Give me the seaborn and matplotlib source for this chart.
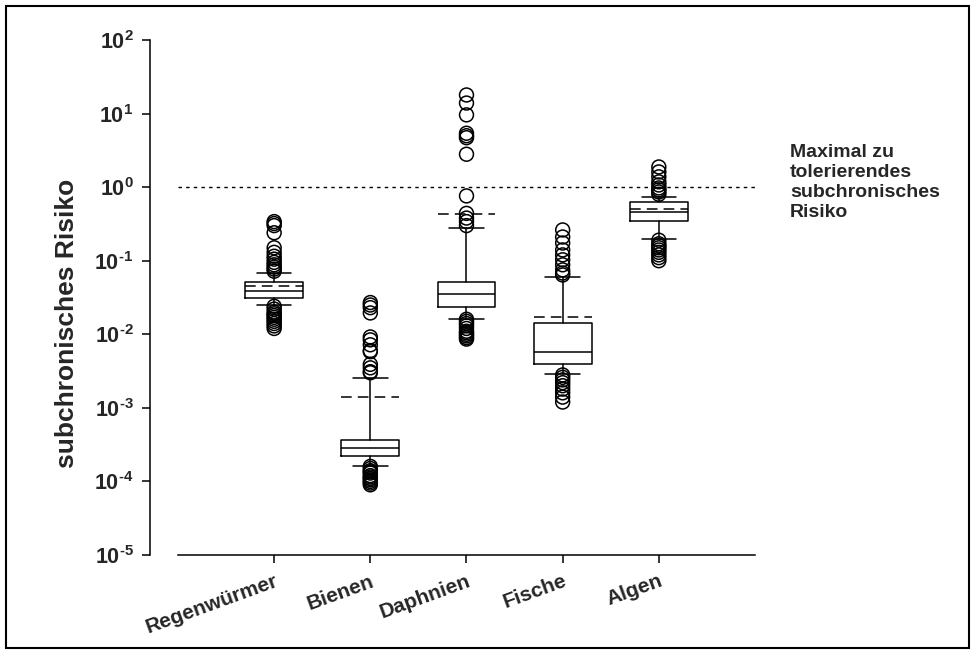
import numpy as np
import pandas as pd
import matplotlib
matplotlib.use("Agg")
import matplotlib.pyplot as plt
import seaborn as sns
from matplotlib.patches import Rectangle

# ---------------- data ----------------
categories = ["Regenwürmer", "Bienen", "Daphnien", "Fische", "Algen"]
medians = [0.039, 0.000286, 0.0354, 0.0058, 0.46]
q1 = [0.0313, 0.000223, 0.0236, 0.00396, 0.347]
q3 = [0.0515, 0.000367, 0.0515, 0.0143, 0.629]
whisker_low = [0.0251, 0.000163, 0.0162, 0.0029, 0.198]
whisker_high = [0.068, 0.00256, 0.279, 0.0602, 0.736]
means = [0.0455, 0.00141, 0.432, 0.0172, 0.506]

outliers_regenwuermer = [0.34, 0.32, 0.30, 0.24, 0.15, 0.13, 0.115, 0.105, 0.095,
                         0.088, 0.082, 0.077, 0.072,
                         0.024, 0.022, 0.020, 0.019, 0.018, 0.017, 0.016, 0.015,
                         0.014, 0.013, 0.012]
outliers_bienen = [0.027, 0.025, 0.023, 0.0195, 0.0092, 0.0084, 0.0072, 0.0060,
                   0.0058, 0.0039, 0.0035, 0.0031, 0.0030,
                   0.00016, 0.00015, 0.00014, 0.000135, 0.00013, 0.00012,
                   0.000115, 0.00011, 0.000105, 0.0001, 0.000095, 0.00009]
outliers_daphnien = [17.9, 13.9, 9.6, 5.4, 5.0, 4.7, 2.8, 0.76, 0.44, 0.38, 0.34,
                     0.30,
                     0.016, 0.015, 0.014, 0.013, 0.012, 0.011, 0.0105, 0.010,
                     0.0095, 0.009, 0.0086]
outliers_fische = [0.262, 0.21, 0.174, 0.14, 0.12, 0.103, 0.088, 0.075, 0.068,
                   0.064,
                   0.0028, 0.0026, 0.0024, 0.0022, 0.002, 0.0018, 0.0016,
                   0.0014, 0.0012]
outliers_algen = [1.88, 1.61, 1.38, 1.18, 1.07, 0.975, 0.92, 0.86, 0.80,
                  0.19, 0.17, 0.16, 0.15, 0.14, 0.13, 0.12, 0.11, 0.10]

threshold = 1.0
y_label = "subchronisches Risiko"
annotation = "Maximal zu\ntolerierendes\nsubchronisches\nRisiko"
y_ticks = [1e-5, 1e-4, 1e-3, 1e-2, 1e-1, 1e0, 1e1, 1e2]
y_exponents = ["-5", "-4", "-3", "-2", "-1", "0", "1", "2"]

# ---------------- style ----------------
sns.set_theme(style="white")
plt.rcParams["font.family"] = ["Liberation Sans", "DejaVu Sans"]
plt.rcParams["font.weight"] = "bold"
plt.rcParams["mathtext.fontset"] = "custom"
plt.rcParams["mathtext.rm"] = "Liberation Sans:bold"
plt.rcParams["mathtext.bf"] = "Liberation Sans:bold"
plt.rcParams["mathtext.it"] = "Liberation Sans:bold"
plt.rcParams["mathtext.default"] = "rm"

W, H = 975, 654
fig = plt.figure(figsize=(W / 100, H / 100), dpi=100)
fig.patch.set_facecolor("white")

left_px, right_px, top_px, bottom_px = 178, 755, 40, 555
ax = fig.add_axes([left_px / W, 1 - bottom_px / H,
                   (right_px - left_px) / W, (bottom_px - top_px) / H])
ax.set_facecolor("white")

positions = list(range(len(categories)))

stats = []
for i, c in enumerate(categories):
    stats.append(dict(label=c, med=medians[i], q1=q1[i], q3=q3[i],
                      whislo=whisker_low[i], whishi=whisker_high[i],
                      mean=means[i], fliers=[]))

line_kw = dict(color="black", linewidth=1.1)
ax.bxp(stats, positions=positions, widths=0.6, capwidths=0.36,
       showmeans=True, meanline=True, showfliers=False, patch_artist=False,
       boxprops=line_kw, whiskerprops=line_kw, capprops=line_kw,
       medianprops=line_kw,
       meanprops=dict(color="black", linewidth=1.1, linestyle=(0, (7, 4))))

# outliers
all_out = [outliers_regenwuermer, outliers_bienen, outliers_daphnien,
           outliers_fische, outliers_algen]
rows = []
for i, vals in enumerate(all_out):
    for v in vals:
        rows.append({"pos": positions[i], "value": v})
df_out = pd.DataFrame(rows)
sns.scatterplot(data=df_out, x="pos", y="value", ax=ax, marker="o", s=100,
                facecolors="none", edgecolor="black", linewidth=1.1,
                legend=False, zorder=3)

# threshold line
ax.axhline(threshold, color="black", linewidth=1.0, linestyle=(0, (2.5, 3)))

ax.set_yscale("log")
ax.set_ylim(1e-5, 1e2)
ax.set_xlim(-1, 5)
ax.minorticks_off()
ax.set_yticks(y_ticks)
ax.set_yticklabels([r"$10^{\text{%s}}$" % e for e in y_exponents])
ax.set_xticks(positions)
ax.set_xticklabels(categories, rotation=20, ha="right", rotation_mode="anchor",
                   fontweight="bold")
ax.set_xlabel("")
ax.set_ylabel(y_label, fontsize=19, fontweight="bold")
ax.yaxis.set_label_coords(-0.172, 0.45)

for s in ["top", "right"]:
    ax.spines[s].set_visible(False)
for s in ["left", "bottom"]:
    ax.spines[s].set_color("black")
    ax.spines[s].set_linewidth(1.1)
ax.spines["left"].set_position(("outward", 20))
ax.tick_params(axis="both", which="major", direction="out", length=6,
               width=1.1, color="black", left=True, bottom=True)
ax.tick_params(axis="y", pad=6, labelsize=15.5)
ax.tick_params(axis="x", pad=6, labelsize=15)

fig.text(790 / W, 1 - 144 / H, annotation, ha="left", va="top",
         fontsize=14, fontweight="bold", linespacing=1.22)

fig.patches.append(Rectangle((6 / W, 6 / H), (969 - 6) / W, (648 - 6) / H,
                             transform=fig.transFigure, fill=False,
                             edgecolor="black", linewidth=1.5))

fig.savefig("out.png", dpi=100)
